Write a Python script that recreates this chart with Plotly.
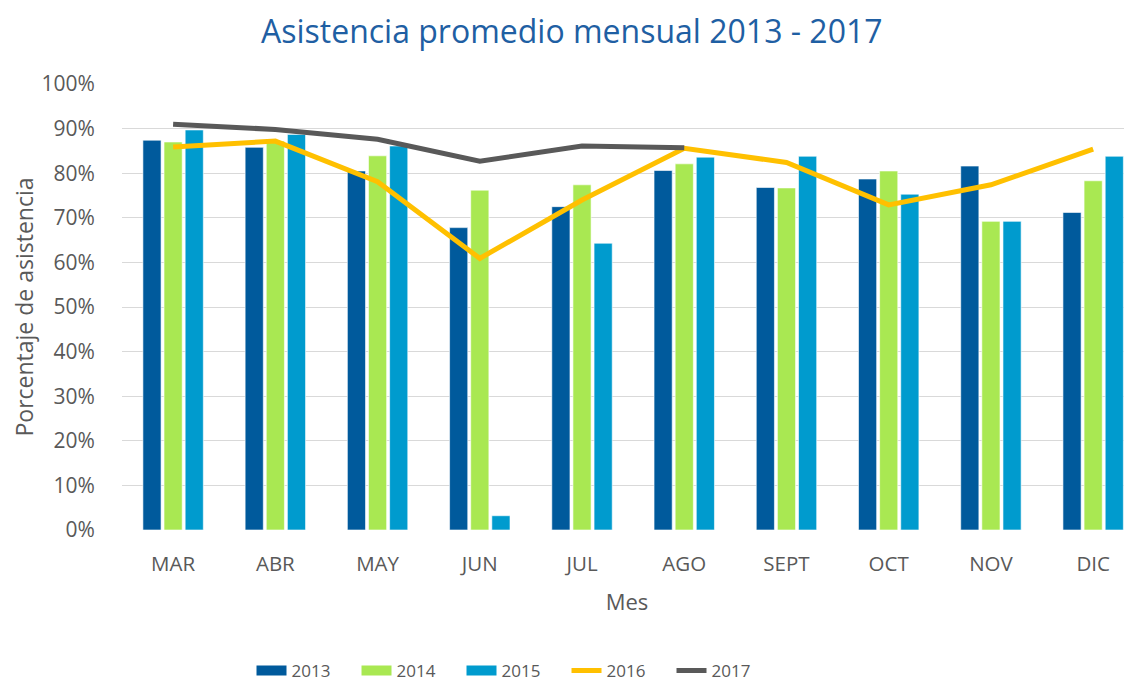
import plotly.graph_objects as go

meses = ["MAR", "ABR", "MAY", "JUN", "JUL", "AGO", "SEPT", "OCT", "NOV", "DIC"]
a2013 = [0.874, 0.858, 0.805, 0.678, 0.725, 0.806, 0.768, 0.787, 0.816, 0.712]
a2014 = [0.870, 0.872, 0.839, 0.762, 0.774, 0.821, 0.767, 0.805, 0.692, 0.783]
a2015 = [0.897, 0.887, 0.861, 0.032, 0.643, 0.836, 0.838, 0.753, 0.692, 0.838]
a2016 = [0.859, 0.872, 0.781, 0.609, 0.740, 0.856, 0.824, 0.729, 0.774, 0.854]
a2017 = [0.910, 0.898, 0.876, 0.827, 0.861, 0.857, None, None, None, None]

c13, c14, c15, c16, c17 = "#005A9C", "#A9E852", "#009BCE", "#FFC000", "#595959"
FONT = "Open Sans"
GRAY = "#595959"

fig = go.Figure()
for name, vals, col in [("2013", a2013, c13), ("2014", a2014, c14), ("2015", a2015, c15)]:
    fig.add_trace(go.Bar(x=meses, y=vals, name=name, marker=dict(color=col, line=dict(color="white", width=0.6)),
                         showlegend=False))
for name, vals, col in [("2016", a2016, c16), ("2017", a2017, c17)]:
    fig.add_trace(go.Scatter(x=meses, y=vals, name=name, mode="lines",
                             line=dict(color=col, width=5), showlegend=False, connectgaps=False))

# legend entries
for name, col, w in [("2013", c13, 13), ("2014", c14, 13), ("2015", c15, 13), ("2016", c16, 5), ("2017", c17, 5)]:
    fig.add_trace(go.Scatter(x=[None], y=[None], name=name, mode="lines", line=dict(color=col, width=w)))

fig.update_layout(
    width=1132, height=681,
    margin=dict(l=114, r=8, t=76, b=159),
    paper_bgcolor="white", plot_bgcolor="white",
    barmode="group", bargap=0.38, bargroupgap=0.14,
    title=dict(text="Asistencia promedio mensual 2013 - 2017", x=0.498, xanchor="center",
               xref="container", y=0.965, yanchor="middle",
               font=dict(family=FONT, size=32, color="#1F5FA3")),
    font=dict(family=FONT, color=GRAY),
    showlegend=True,
    legend=dict(orientation="h", xref="container", x=0.447, xanchor="center", yref="container",
                y=0.0, yanchor="bottom", font=dict(size=17, color=GRAY),
                entrywidth=60, entrywidthmode="pixels", traceorder="normal"),
    xaxis=dict(range=[-0.5, 9.38], showgrid=False, zeroline=False, showline=False, automargin=False,
               tickfont=dict(size=20.5, color=GRAY), ticks="outside", ticklen=15, tickcolor="rgba(0,0,0,0)",
               title=dict(text="Mes", font=dict(size=22, color=GRAY), standoff=19)),
    yaxis=dict(range=[0, 1], tickvals=[i / 10 for i in range(11)], tickformat=".0%", automargin=False,
               showgrid=True, gridcolor="#D9D9D9", gridwidth=1, zeroline=False, showline=False,
               tickfont=dict(size=21, color=GRAY), ticks="outside", ticklen=22, tickcolor="rgba(0,0,0,0)",
               title=dict(text="Porcentaje de asistencia", font=dict(size=23, color=GRAY), standoff=10)),
)
fig.write_html("out.html")
